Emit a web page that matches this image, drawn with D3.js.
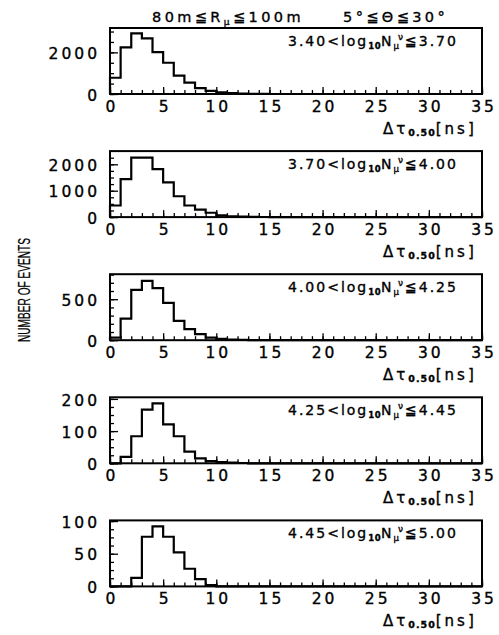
<!DOCTYPE html>
<html><head><meta charset="utf-8">
<script src="https://cdnjs.cloudflare.com/ajax/libs/d3/7.8.5/d3.min.js"></script>
<style>
html,body{margin:0;padding:0;background:#fff;}
svg{display:block;}
text{font-family:"DejaVu Sans",sans-serif;fill:#000;stroke:#000;stroke-width:0.35px;}
</style></head>
<body>
<script>
// ---- data ----
const xDomain = [0, 35];
const xMajorTicks = [0, 5, 10, 15, 20, 25, 30, 35];
const panelLabelsLow = ["3.40", "3.70", "4.00", "4.25", "4.45"];
const panelLabelsHigh = ["3.70", "4.00", "4.25", "4.45", "5.00"];
const yMax = [3170, 2500, 805, 205, 101];
const yMajorTicks = [[0, 2000], [0, 1000, 2000], [0, 500], [0, 100, 200], [0, 50, 100]];
const yMinorStep = [500, 250, 100, 25, 12.5];
const counts1 = [780, 2240, 2910, 2670, 2015, 1500, 880, 550, 280, 150, 80, 40, 20, 10, 5];
const counts2 = [440, 1440, 2255, 2255, 1820, 1315, 790, 440, 280, 165, 65, 30, 15, 8, 4];
const counts3 = [32, 263, 613, 723, 634, 455, 235, 134, 73, 32, 15, 8, 4, 2];
const counts4 = [0, 20, 84, 167, 186, 121, 84, 36, 15, 7, 4, 2, 1];
const counts5 = [0, 0, 13, 76, 92, 76, 52, 27, 11, 2, 0];
const allCounts = [counts1, counts2, counts3, counts4, counts5];

// ---- layout ----
const W = 499, H = 635;
const left = 110, right = 482;
const top0 = 28, step = 123.1, ph = 66;

const svg = d3.select("body").append("svg").attr("width", W).attr("height", H);
const x = d3.scaleLinear().domain(xDomain).range([left, right]);

// title
const t1 = svg.append("text").attr("x", 152).attr("y", 22).attr("font-size", 14.5).attr("letter-spacing", 3.4);
t1.append("tspan").text("80m≦R");
t1.append("tspan").attr("font-size", 9).attr("dy", 3).text("μ");
t1.append("tspan").attr("dy", -3).text("≦100m");
svg.append("text").attr("x", 343).attr("y", 22).attr("font-size", 14.5).attr("letter-spacing", 3.4)
  .text("5°≦Θ≦30°");

// y axis title
svg.append("text").attr("transform", "translate(30,290) rotate(-90)")
  .attr("text-anchor", "middle")
  .style("font-family", '"Liberation Sans Narrow","Liberation Sans",sans-serif')
  .style("stroke-width", "0.2px")
  .attr("font-size", 16.5).attr("textLength", 104).attr("lengthAdjust", "spacingAndGlyphs")
  .text("NUMBER OF EVENTS");

allCounts.forEach((counts, i) => {
  const yTop = top0 + i * step, yBot = yTop + ph;
  const y = d3.scaleLinear().domain([0, yMax[i]]).range([yBot, yTop]);
  const g = svg.append("g");

  // x minor/major ticks (inward)
  g.append("g").attr("transform", `translate(0,${yBot})`)
    .call(d3.axisBottom(x).tickValues(d3.range(xDomain[0], xDomain[1] + 1, 1)).tickSize(-4).tickFormat(""))
    .call(a => a.select(".domain").remove())
    .call(a => a.selectAll("line").attr("stroke", "#000").attr("stroke-width", 1.3));
  g.append("g").attr("transform", `translate(0,${yBot})`)
    .call(d3.axisBottom(x).tickValues(xMajorTicks).tickSize(-7).tickPadding(7))
    .call(a => a.select(".domain").remove())
    .call(a => a.selectAll("line").attr("stroke", "#000").attr("stroke-width", 1.3))
    .call(a => a.selectAll("text").attr("font-size", 15.5).attr("letter-spacing", 3)
      .attr("dx", 1.5).style("font-family", '"DejaVu Sans",sans-serif').attr("fill", "#000"));

  // y ticks
  g.append("g").attr("transform", `translate(${left},0)`)
    .call(d3.axisLeft(y).tickValues(d3.range(0, yMax[i], yMinorStep[i])).tickSize(-4).tickFormat(""))
    .call(a => a.select(".domain").remove())
    .call(a => a.selectAll("line").attr("stroke", "#000").attr("stroke-width", 1.3));
  g.append("g").attr("transform", `translate(${left},0)`)
    .call(d3.axisLeft(y).tickValues(yMajorTicks[i]).tickSize(-8).tickPadding(13).tickFormat(d3.format("d")))
    .call(a => a.select(".domain").remove())
    .call(a => a.selectAll("line").attr("stroke", "#000").attr("stroke-width", 1.3))
    .call(a => a.selectAll("text").attr("font-size", 15.5).attr("letter-spacing", 3)
      .attr("dx", 3).attr("dy", "0.4em").style("font-family", '"DejaVu Sans",sans-serif').attr("fill", "#000"));

  // histogram step line
  const pts = [[0, 0]];
  counts.forEach((v, k) => { pts.push([k, v]); pts.push([k + 1, v]); });
  pts.push([counts.length, 0]);
  pts.push([xDomain[1], 0]);
  g.append("path").datum(pts)
    .attr("d", d3.line().x(d => x(d[0])).y(d => y(d[1])))
    .attr("fill", "none").attr("stroke", "#000").attr("stroke-width", 2.2)
    .attr("stroke-linejoin", "miter");

  // frame
  g.append("rect").attr("x", left).attr("y", yTop).attr("width", right - left).attr("height", ph)
    .attr("fill", "none").attr("stroke", "#000").attr("stroke-width", 2);

  // panel label
  const lab = g.append("text").attr("x", 288).attr("y", yTop + 17.5).attr("font-size", 14).attr("letter-spacing", 2);
  lab.append("tspan").text(panelLabelsLow[i] + "<log");
  lab.append("tspan").attr("font-size", 8.5).attr("font-weight", "bold").attr("dy", 3).attr("letter-spacing", 0.5).text("10");
  lab.append("tspan").attr("dy", -3).text("N");
  lab.append("tspan").attr("font-size", 8.5).attr("dy", 3).attr("letter-spacing", 0).text("μ");
  lab.append("tspan").attr("font-size", 9).attr("dy", -9).attr("dx", -1).text("ν");
  lab.append("tspan").attr("dy", 6).text("≦" + panelLabelsHigh[i]);

  // x axis title
  const xl = g.append("text").attr("x", 383).attr("y", yBot + 40).attr("font-size", 15).attr("letter-spacing", 3);
  xl.append("tspan").text("Δτ");
  xl.append("tspan").attr("font-size", 9.5).attr("font-weight", "bold").attr("dy", 2).attr("letter-spacing", 1).text("0.50");
  xl.append("tspan").attr("dy", -2).text("[ns]");
});
</script>
</body></html>
